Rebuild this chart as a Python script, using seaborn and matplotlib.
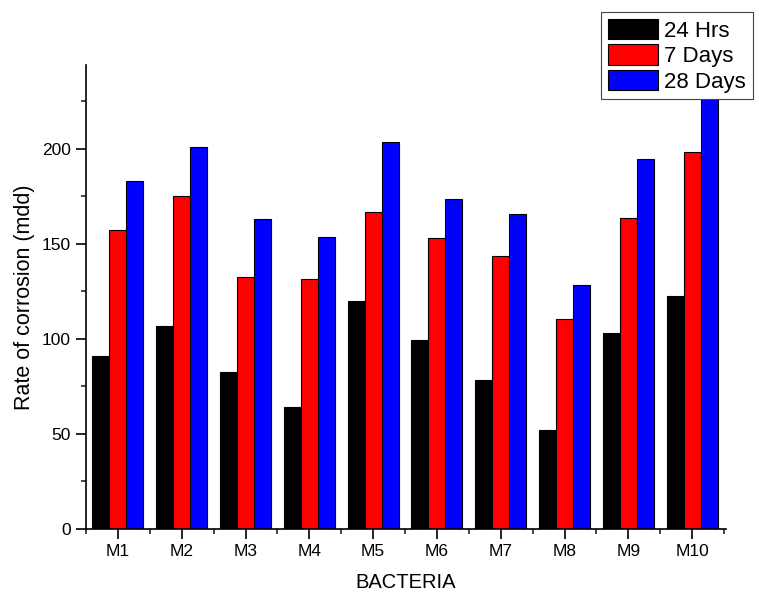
import numpy as np
import pandas as pd
import matplotlib
matplotlib.use("Agg")
import matplotlib.pyplot as plt
import seaborn as sns
from matplotlib.ticker import MultipleLocator, FixedLocator

# Data
bacteria = ["M1", "M2", "M3", "M4", "M5", "M6", "M7", "M8", "M9", "M10"]
hrs_24 = [91, 107, 82.5, 64, 120, 99.5, 78.5, 52, 103, 122.5]
days_7 = [157, 175, 132.5, 131.5, 166.5, 153, 143.5, 110.5, 163.5, 198.5]
days_28 = [183, 201, 163, 153.5, 203.5, 173.5, 165.5, 128.5, 194.5, 230]
series_names = ["24 Hrs", "7 Days", "28 Days"]
colors = ["#000000", "#ff0000", "#0000ff"]

df = pd.DataFrame({
    "BACTERIA": bacteria * 3,
    "rate": hrs_24 + days_7 + days_28,
    "period": [s for s in series_names for _ in bacteria],
})

sns.set_theme(style="ticks")
plt.rcParams["font.family"] = ["Liberation Sans", "DejaVu Sans"]
plt.rcParams["text.color"] = "black"
plt.rcParams["axes.labelcolor"] = "black"

fig = plt.figure(figsize=(7.59, 5.96), dpi=100)
ax = fig.add_axes([86 / 759, 1 - 529 / 596, (726 - 86) / 759, (529 - 65) / 596])

sns.barplot(data=df, x="BACTERIA", y="rate", hue="period", hue_order=series_names,
            palette=colors, width=0.8, edgecolor="black", linewidth=0.8,
            saturation=1, ax=ax, legend=False)

ax.set_xlim(-0.5, 9.53)
ax.set_ylim(0, 244)
ax.yaxis.set_major_locator(MultipleLocator(50))
ax.yaxis.set_minor_locator(MultipleLocator(25))
ax.xaxis.set_minor_locator(FixedLocator(np.arange(-0.5, 10, 1)))
ax.tick_params(axis="both", which="major", direction="out", length=7, width=1.2,
               labelsize=12.5, colors="black", pad=4)
ax.tick_params(axis="both", which="minor", direction="out", length=3.5, width=1.2)
for side in ["left", "bottom"]:
    ax.spines[side].set_linewidth(1.2)
    ax.spines[side].set_color("black")
sns.despine(ax=ax)

ax.set_xlabel("BACTERIA", fontsize=14.5, labelpad=10)
ax.set_ylabel("Rate of corrosion (mdd)", fontsize=15.5, labelpad=5)

handles = [plt.Rectangle((0, 0), 1, 1, facecolor=c, edgecolor="black", linewidth=0.8)
           for c in colors]
leg = fig.legend(handles, series_names, loc="upper left",
                 bbox_to_anchor=(601 / 759, 1 - 12 / 596), fontsize=16,
                 frameon=True, fancybox=False, framealpha=1, edgecolor="#444444",
                 handlelength=2.25, handleheight=1.05, labelspacing=0.12,
                 handletextpad=0.3, borderpad=0.3, borderaxespad=0)
leg.get_frame().set_linewidth(0.8)
leg.set_zorder(10)

fig.savefig("out.png", dpi=100)
